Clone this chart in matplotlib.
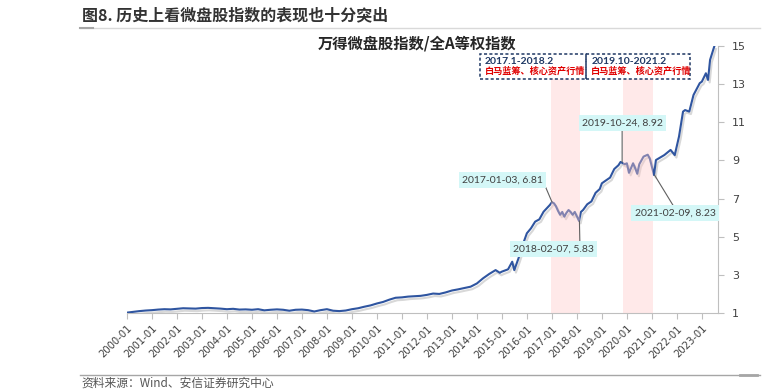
import numpy as np
import pandas as pd
import matplotlib
matplotlib.use("Agg")
import matplotlib.pyplot as plt
import matplotlib.dates as mdates
import matplotlib.patheffects as pe
from matplotlib.patches import Rectangle

plt.rcParams['font.family'] = ['Noto Sans CJK SC', 'DejaVu Sans']

# 万得微盘股指数/全A等权指数
dates = ["2000-01", "2000-04", "2000-07", "2000-10", "2001-01", "2001-04", "2001-07", "2001-10",
         "2002-01", "2002-04", "2002-07", "2002-10", "2003-01", "2003-04", "2003-07", "2003-10",
         "2004-01", "2004-04", "2004-07", "2004-10", "2005-01", "2005-04", "2005-07", "2005-10",
         "2006-01", "2006-04", "2006-07", "2006-10", "2007-01", "2007-04", "2007-07", "2007-10",
         "2008-01", "2008-04", "2008-07", "2008-10", "2009-01", "2009-04", "2009-07", "2009-10",
         "2010-01", "2010-04", "2010-07", "2010-10", "2011-01", "2011-04", "2011-07", "2011-10",
         "2012-01", "2012-04", "2012-07", "2012-10", "2013-01", "2013-04", "2013-07", "2013-10",
         "2014-01", "2014-04", "2014-07", "2014-10", "2014-12", "2015-01", "2015-04", "2015-06",
         "2015-07", "2015-09", "2015-11", "2016-01", "2016-03", "2016-05", "2016-07", "2016-09",
         "2016-12", "2017-01", "2017-02",
         "2017-03", "2017-04", "2017-05", "2017-06", "2017-07", "2017-08", "2017-09", "2017-10",
         "2017-11", "2017-12", "2018-02", "2018-03", "2018-04", "2018-06", "2018-08", "2018-10",
         "2018-12", "2019-01", "2019-03", "2019-05", "2019-07", "2019-09", "2019-10", "2019-12",
         "2020-01", "2020-02", "2020-04", "2020-05", "2020-06", "2020-07", "2020-09", "2020-11",
         "2020-12", "2021-02", "2021-03", "2021-05", "2021-07", "2021-10", "2021-12", "2022-02",
         "2022-04", "2022-05", "2022-07", "2022-09", "2022-12", "2023-01", "2023-03", "2023-04",
         "2023-05", "2023-07"]
values = [1.02, 1.06, 1.10, 1.13, 1.15, 1.18, 1.20, 1.19,
          1.22, 1.25, 1.24, 1.23, 1.26, 1.27, 1.25, 1.23,
          1.20, 1.22, 1.18, 1.19, 1.17, 1.20, 1.14, 1.17,
          1.19, 1.17, 1.12, 1.17, 1.18, 1.15, 1.08, 1.15,
          1.20, 1.12, 1.10, 1.13, 1.20, 1.25, 1.33, 1.40,
          1.50, 1.58, 1.70, 1.80, 1.82, 1.86, 1.88, 1.90,
          1.95, 2.02, 2.00, 2.08, 2.18, 2.24, 2.31, 2.38,
          2.55, 2.82, 3.05, 3.25, 3.11, 3.17, 3.29, 3.69,
          3.25, 3.87, 4.57, 5.18, 5.44, 5.79, 5.91, 6.31,
          6.66, 6.81, 6.75,
          6.60, 6.35, 6.15, 6.30, 6.05, 6.25, 6.40, 6.30,
          6.15, 6.30, 5.83, 6.30, 6.40, 6.70, 6.85, 7.30,
          7.50, 7.80, 7.95, 8.10, 8.55, 8.75, 8.92, 8.80,
          8.85, 8.35, 8.85, 8.60, 8.30, 8.80, 9.20, 9.30,
          9.10, 8.23, 9.02, 9.15, 9.28, 9.55, 9.28, 10.25,
          11.56, 11.64, 11.56, 12.43, 13.05, 13.13, 13.57, 13.22,
          14.27, 14.97]

# 行情区间
periods = [("2016-12-20", "2018-02-20"), ("2019-11-05", "2021-01-20")]
period_titles = ["2017.1-2018.2", "2019.10-2021.2"]
period_notes = ["白马蓝筹、核心资产行情", "白马蓝筹、核心资产行情"]

# 标注点
ann_dates = ["2017-01-03", "2018-02-07", "2019-10-24", "2021-02-09"]
ann_values = [6.81, 5.83, 8.92, 8.23]
ann_text_pos = [("2015-01-05", 7.97), ("2017-01-20", 4.36), ("2019-10-24", 10.96), ("2021-12-05", 6.24)]
ann_relpos = [(1.0, 0.5), (0.83, 1.0), (0.5, 0.0), (0.5, 1.0)]

t = pd.to_datetime(dates)

fig = plt.figure(figsize=(7.79, 3.92), dpi=100)
ax = fig.add_axes([0.1626, 0.2015, 0.7591, 0.6812])

ax.plot(t, values, color="#2F55A0", lw=1.5, zorder=3,
        path_effects=[pe.SimpleLineShadow(offset=(1.2, -1.8), shadow_color="#909090", alpha=0.35),
                      pe.Normal()])

for a, b in periods:
    ax.axvspan(pd.Timestamp(a), pd.Timestamp(b), ymin=0, ymax=0.875, color="#FFC8C8",
               alpha=0.4, lw=0, zorder=4)

ax.set_xlim(pd.Timestamp("1999-12-28"), pd.Timestamp("2023-08-25"))
ax.set_ylim(1, 15)

ax.yaxis.tick_right()
ax.set_yticks(np.arange(1, 16, 2))
ax.xaxis.set_major_locator(mdates.YearLocator())
ax.xaxis.set_major_formatter(mdates.DateFormatter("%Y-%m"))
for s in ["left", "top"]:
    ax.spines[s].set_visible(False)
ax.spines["bottom"].set_color("#BFBFBF")
ax.spines["right"].set_color("#BFBFBF")
ax.tick_params(axis="x", colors="#BFBFBF", labelcolor="#404040", labelsize=7.2, length=4,
               direction="out")
ax.tick_params(axis="y", colors="#BFBFBF", labelcolor="#404040", labelsize=8, length=4,
               direction="out", pad=6)
for lbl in ax.get_xticklabels():
    lbl.set_rotation(45)
    lbl.set_ha("right")
    lbl.set_rotation_mode("anchor")
    lbl.set_family("DejaVu Sans")
for lbl in ax.get_yticklabels():
    lbl.set_family("DejaVu Sans")

for d, v, (tx, ty), rp in zip(ann_dates, ann_values, ann_text_pos, ann_relpos):
    ax.annotate(f"{d}, {v:.2f}", xy=(pd.Timestamp(d), v), xytext=(pd.Timestamp(tx), ty),
                ha="center", va="center", fontsize=7.5, color="#404040", family="Lato",
                bbox=dict(boxstyle="square,pad=0.3", fc="#D4F7F7", ec="none"),
                arrowprops=dict(arrowstyle="-", color="#606060", lw=0.8, shrinkA=0, shrinkB=0,
                                relpos=rp),
                zorder=6)

# 顶部虚线框
x0 = mdates.date2num(pd.Timestamp("2014-02-15"))
xm = mdates.date2num(pd.Timestamp("2018-05-20"))
x1 = mdates.date2num(pd.Timestamp("2022-07-10"))
for xa, xb, tt, nn in zip([x0, xm], [xm, x1], period_titles, period_notes):
    ax.add_patch(Rectangle((xa, 13.27), xb - xa, 1.31, fill=False, ec="#1F3864", lw=1.1,
                           ls=(0, (2, 1.5)), zorder=7))
    ax.text(xa + 70, 14.2, tt, fontsize=7.5, color="#1F3864", fontweight="bold", family="Lato",
            va="center", zorder=8)
    ax.text(xa + 70, 13.68, nn, fontsize=6.6, color="#E00000", fontweight="bold", va="center",
            zorder=8)

fig.text(0.535, 0.888, "万得微盘股指数/全A等权指数", fontsize=11, fontweight="bold",
         color="#262626", ha="center", va="center")

fig.text(0.105, 0.962, "图8. 历史上看微盘股指数的表现也十分突出", fontsize=11.5, fontweight="bold",
         color="#333333", ha="left", va="center")
fig.add_artist(plt.Line2D([0.103, 0.975], [0.928, 0.928], color="#D9D9D9", lw=1))
fig.add_artist(plt.Line2D([0.103, 0.120], [0.928, 0.928], color="#A6A6A6", lw=1.5))
fig.add_artist(plt.Line2D([0.103, 0.975], [0.043, 0.043], color="#A6A6A6", lw=1))
fig.add_artist(plt.Line2D([0.950, 0.972], [0.043, 0.043], color="#A6A6A6", lw=2))
fig.text(0.105, 0.022, "资料来源：Wind、安信证券研究中心", fontsize=8.5, style="italic",
         color="#555555", ha="left", va="center")

fig.savefig("out.png", dpi=100)
